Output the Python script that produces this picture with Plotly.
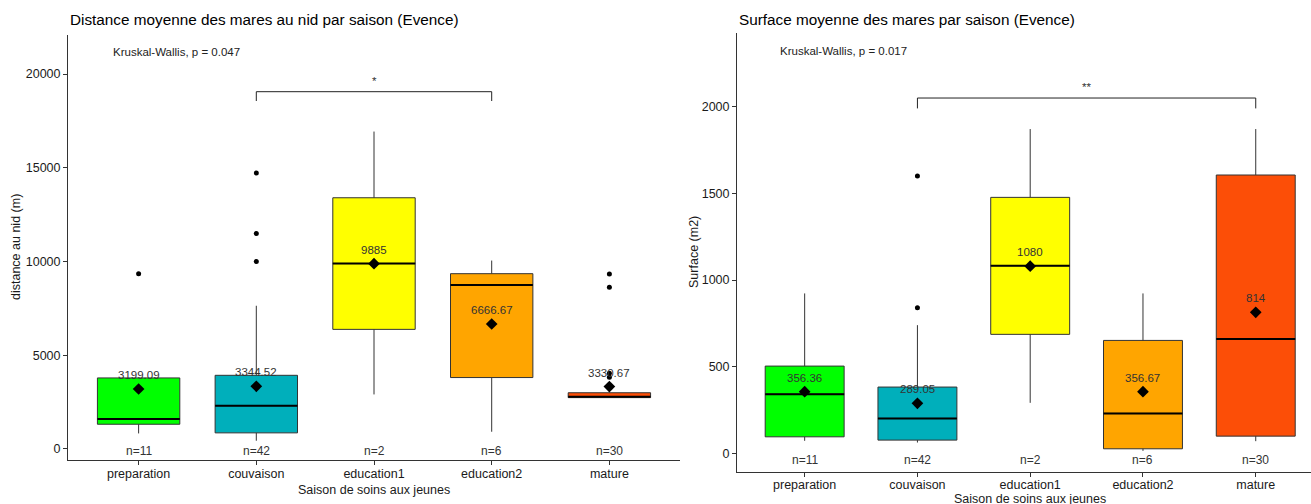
import plotly.graph_objects as go

# ---------------- data ----------------
categories = ["preparation", "couvaison", "education1", "education2", "mature"]
box_colors = ["#00FF00", "#00AFBB", "#FFFF00", "#FFA500", "#FC4E07"]
n_labels = ["n=11", "n=42", "n=2", "n=6", "n=30"]

# Distance au nid (m)
dist_q1 = [1320, 860, 6380, 3810, 2740]
dist_median = [1600, 2310, 9890, 8750, 2790]
dist_q3 = [3790, 3930, 13400, 9350, 3000]
dist_lower = [830, 440, 2910, 920, 2740]
dist_upper = [3790, 7640, 16930, 10050, 3000]
dist_mean = [3199.09, 3344.52, 9885, 6666.67, 3330.67]
dist_mean_text = ["3199.09", "3344.52", "9885", "6666.67", "3330.67"]
dist_out_cat = ["preparation", "couvaison", "couvaison", "couvaison", "mature", "mature", "mature", "mature"]
dist_out_val = [9350, 10000, 11490, 14720, 9330, 8625, 4040, 3820]
dist_ticks = [0, 5000, 10000, 15000, 20000]
dist_pvalue = "Kruskal-Wallis, p = 0.047"
dist_bracket = ["couvaison", "education2"]
dist_bracket_y = [19056, 18560]
dist_bracket_label = "*"

# Surface (m2)
surf_q1 = [96, 77, 687, 27, 100]
surf_median = [342, 202, 1083, 231, 660]
surf_q3 = [504, 383, 1477, 652, 1606]
surf_lower = [73, 63, 292, 15, 71]
surf_upper = [923, 740, 1871, 923, 1871]
surf_mean = [356.36, 289.05, 1080, 356.67, 814]
surf_mean_text = ["356.36", "289.05", "1080", "356.67", "814"]
surf_out_cat = ["couvaison", "couvaison"]
surf_out_val = [840, 1600]
surf_ticks = [0, 500, 1000, 1500, 2000]
surf_pvalue = "Kruskal-Wallis, p = 0.017"
surf_bracket = ["couvaison", "mature"]
surf_bracket_y = [2050, 1990]
surf_bracket_label = "**"

# ---------------- style ----------------
W, H = 1311, 504
FONT = "Liberation Sans, Arial, sans-serif"
TXT = "#1a1a1a"
LINE = "#333333"
BOX_W = 0.7


def px_x(p):
    return p / W


def px_y(p):
    return 1 - p / H


fig = go.Figure()
annotations = []


def add_panel(xa, ya, q1, med, q3, lo, up, means, mean_txt, out_cat, out_val,
              pval, bracket, bracket_y, bracket_label, n_shift, kw_y):
    idx = {c: i for i, c in enumerate(categories)}
    for i, c in enumerate(categories):
        fig.add_trace(go.Box(
            x=[i], q1=[q1[i]], median=[med[i]], q3=[q3[i]],
            lowerfence=[lo[i]], upperfence=[up[i]],
            width=BOX_W, whiskerwidth=0, boxpoints=False,
            fillcolor=box_colors[i], line=dict(color=LINE, width=1),
            xaxis=xa, yaxis=ya, showlegend=False, hoverinfo="skip"))
    # thicker median lines
    for i, c in enumerate(categories):
        fig.add_trace(go.Scatter(
            x=[i - BOX_W / 2, i + BOX_W / 2], y=[med[i], med[i]], mode="lines",
            line=dict(color="black", width=2), xaxis=xa, yaxis=ya,
            showlegend=False, hoverinfo="skip"))
    # outliers
    fig.add_trace(go.Scatter(
        x=[idx[c] for c in out_cat], y=out_val, mode="markers",
        marker=dict(color="black", size=5), xaxis=xa, yaxis=ya,
        showlegend=False, hoverinfo="skip"))
    # means
    fig.add_trace(go.Scatter(
        x=list(range(len(categories))), y=means, mode="markers",
        marker=dict(color="black", size=9, symbol="diamond"), xaxis=xa, yaxis=ya,
        showlegend=False, hoverinfo="skip"))
    for i, t in enumerate(mean_txt):
        annotations.append(dict(x=i, y=means[i], xref=xa, yref=ya, text=t,
                                showarrow=False, yshift=14,
                                font=dict(family=FONT, size=11.5, color="#333333")))
    for i, t in enumerate(n_labels):
        annotations.append(dict(x=i, y=0, xref=xa, yref=ya, text=t,
                                showarrow=False, yshift=n_shift,
                                font=dict(family=FONT, size=12, color="#333333")))
    # bracket
    b0, b1 = idx[bracket[0]], idx[bracket[1]]
    fig.add_trace(go.Scatter(
        x=[b0, b0, b1, b1], y=[bracket_y[1], bracket_y[0], bracket_y[0], bracket_y[1]],
        mode="lines", line=dict(color="#222222", width=1), xaxis=xa, yaxis=ya,
        showlegend=False, hoverinfo="skip"))
    annotations.append(dict(x=(b0 + b1) / 2, y=bracket_y[0], xref=xa, yref=ya,
                            text=bracket_label, showarrow=False, yshift=11,
                            font=dict(family=FONT, size=11.5, color="#333333")))
    annotations.append(dict(x=-0.235, y=kw_y, xref=xa, yref=ya, text=pval,
                            showarrow=False, xanchor="left", yanchor="middle",
                            font=dict(family=FONT, size=11.5, color="#222222")))


add_panel("x", "y", dist_q1, dist_median, dist_q3, dist_lower, dist_upper,
          dist_mean, dist_mean_text, dist_out_cat, dist_out_val,
          dist_pvalue, dist_bracket, dist_bracket_y, dist_bracket_label, -2, 21170)
add_panel("x2", "y2", surf_q1, surf_median, surf_q3, surf_lower, surf_upper,
          surf_mean, surf_mean_text, surf_out_cat, surf_out_val,
          surf_pvalue, surf_bracket, surf_bracket_y, surf_bracket_label, -7, 2322)

axis_common = dict(showline=True, linecolor=LINE, linewidth=1, ticks="outside",
                   ticklen=4, tickcolor=LINE, tickwidth=1, showgrid=False,
                   zeroline=False, automargin=False,
                   tickfont=dict(family=FONT, size=12.5, color=TXT))

fig.update_layout(
    width=W, height=H, margin=dict(l=0, r=0, t=0, b=0, pad=0, autoexpand=False),
    paper_bgcolor="white", plot_bgcolor="white", showlegend=False,
    xaxis=dict(axis_common, domain=[px_x(68), px_x(680)], range=[-0.6, 4.6],
               tickvals=list(range(5)), ticktext=categories, anchor="y",
               ticklabelstandoff=-2),
    yaxis=dict(axis_common, domain=[px_y(460), px_y(35)], range=[-587, 22080],
               tickvals=dist_ticks, tickformat="d", anchor="x"),
    xaxis2=dict(axis_common, domain=[px_x(737), 1.0], range=[-0.6, 4.49],
                tickvals=list(range(5)), ticktext=categories, anchor="y2",
                ticklabelstandoff=-3),
    yaxis2=dict(axis_common, domain=[px_y(471.5), px_y(33)], range=[-104, 2425],
                tickvals=surf_ticks, tickformat="d", anchor="x2"),
)

# titles and axis titles
annotations += [
    dict(x=px_x(68), y=px_y(20), xref="paper", yref="paper", xanchor="left", yanchor="middle",
         text="Distance moyenne des mares au nid par saison (Evence)", showarrow=False,
         font=dict(family=FONT, size=15.3, color="black")),
    dict(x=px_x(737), y=px_y(20), xref="paper", yref="paper", xanchor="left", yanchor="middle",
         text="Surface moyenne des mares par saison (Evence)", showarrow=False,
         font=dict(family=FONT, size=15.3, color="black")),
    dict(x=px_x(16), y=px_y(247), xref="paper", yref="paper", xanchor="center", yanchor="middle",
         text="distance au nid (m)", textangle=-90, showarrow=False,
         font=dict(family=FONT, size=12.5, color=TXT)),
    dict(x=px_x(694), y=px_y(252), xref="paper", yref="paper", xanchor="center", yanchor="middle",
         text="Surface (m2)", textangle=-90, showarrow=False,
         font=dict(family=FONT, size=12.5, color=TXT)),
    dict(x=px_x(374), y=px_y(490), xref="paper", yref="paper", xanchor="center", yanchor="middle",
         text="Saison de soins aux jeunes", showarrow=False,
         font=dict(family=FONT, size=12.5, color=TXT)),
    dict(x=px_x(1030), y=px_y(499), xref="paper", yref="paper", xanchor="center", yanchor="middle",
         text="Saison de soins aux jeunes", showarrow=False,
         font=dict(family=FONT, size=12.5, color=TXT)),
]
fig.update_layout(annotations=annotations)

fig.write_html(
    "out.html",
    config={"displayModeBar": False},
    post_script="document.body.style.margin='0px';document.body.style.padding='0px';"
                "document.body.style.overflow='hidden';",
)
